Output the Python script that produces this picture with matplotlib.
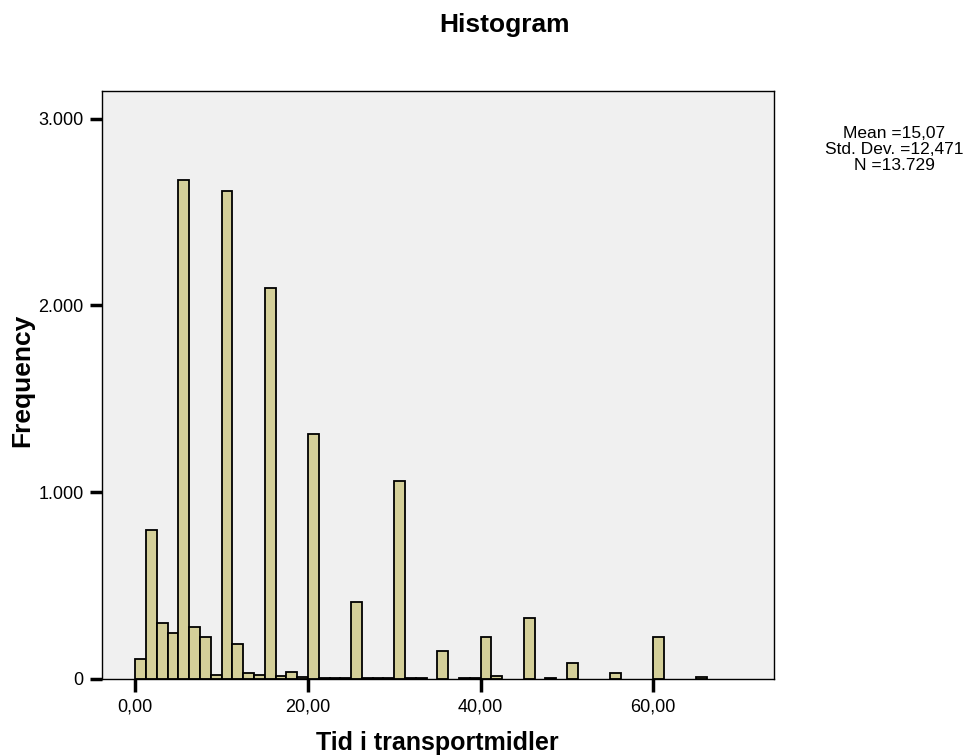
import matplotlib
matplotlib.use("Agg")
import matplotlib.pyplot as plt
import numpy as np

plt.rcParams['font.family'] = ['Liberation Sans', 'DejaVu Sans']

# histogram bins (SPSS style), width 1.25 starting at 0
bin_start = 0.0
bin_width = 1.25
counts = [106, 797, 300, 243, 2673, 277, 226, 21,
          2611, 186, 33, 20, 2091, 15, 36, 10,
          1309, 5, 4, 5, 412, 6, 3, 3,
          1057, 5, 3, 0, 148, 0, 3, 3,
          226, 15, 0, 0, 328, 0, 3, 0,
          84, 0, 0, 0, 32, 0, 0, 0,
          226, 0, 0, 0, 12]

xticks = [0, 20, 40, 60]
xtick_labels = ["0,00", "20,00", "40,00", "60,00"]
yticks = [0, 1000, 2000, 3000]
ytick_labels = ["0", "1.000", "2.000", "3.000"]

stats_text = ["Mean =15,07", "Std. Dev. =12,471", "N =13.729"]

counts = np.array(counts)
left = bin_start + bin_width * np.arange(len(counts))
keep = counts > 0

fig = plt.figure(figsize=(9.72, 7.56), dpi=100)
ax = fig.add_axes([0.1046, 0.1021, 0.6917, 0.7779])
ax.set_facecolor("#F0F0F0")

ax.bar(left[keep], counts[keep], width=bin_width, align="edge",
       color="#D4CF99", edgecolor="black", linewidth=1.3)

ax.set_xlim(-3.9, 74.0)
ax.set_ylim(0, 3150)
ax.set_xticks(xticks)
ax.set_xticklabels(xtick_labels)
ax.set_yticks(yticks)
ax.set_yticklabels(ytick_labels)
ax.tick_params(direction="out", length=9, width=2.5, labelsize=13, pad=4)
ax.tick_params(axis="x", pad=5)

for s in ax.spines.values():
    s.set_linewidth(1.0)
    s.set_color("black")

fig.text(504 / 972, 1 - 25 / 756, "Histogram", ha="center", va="center",
         fontsize=19, fontweight="bold")
fig.text(22 / 972, 1 - 380 / 756, "Frequency", ha="center", va="center",
         rotation=90, fontsize=19, fontweight="bold")
fig.text(437.5 / 972, 1 - 743 / 756, "Tid i transportmidler", ha="center",
         va="center", fontsize=18, fontweight="bold")

# stats box, one line at a time so spacing is exact
for i, line in enumerate(stats_text):
    fig.text(894 / 972, 1 - (134 + 15.5 * i) / 756, line, ha="center",
             va="center", fontsize=12.5)

fig.savefig("out.png", dpi=100)
